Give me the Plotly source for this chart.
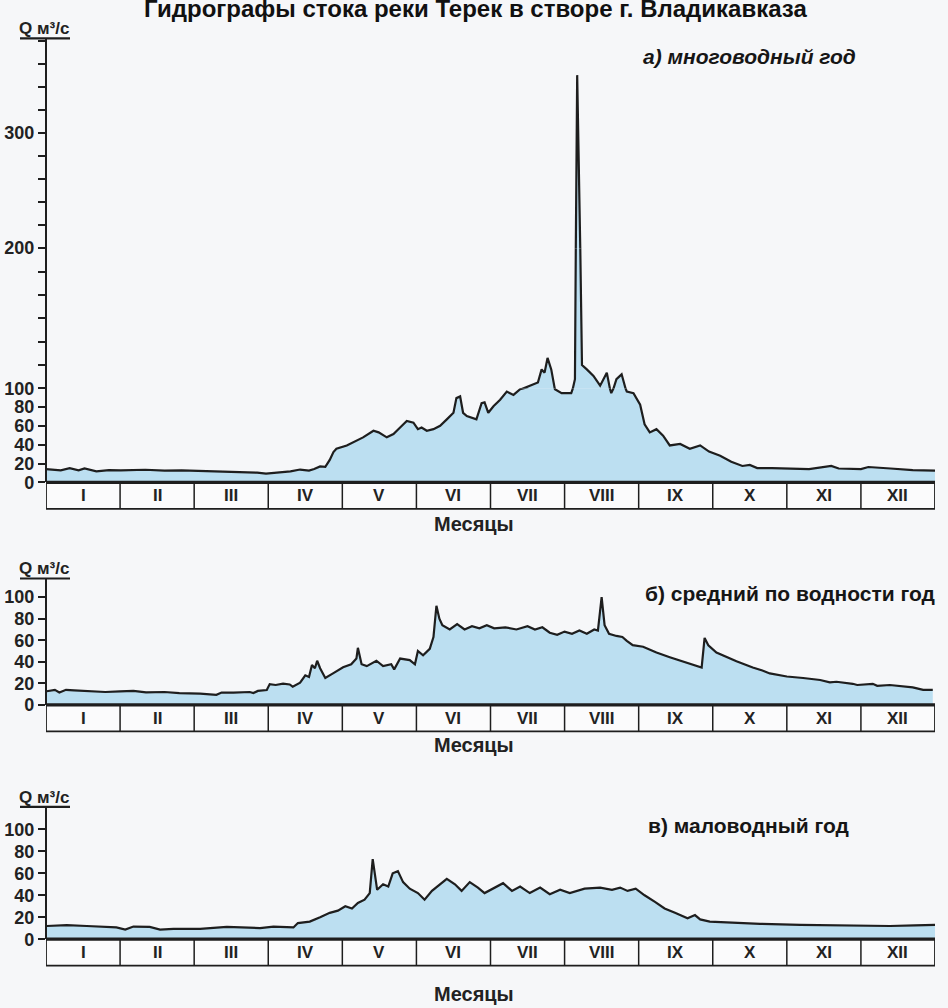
import plotly.graph_objects as go

W, H = 948, 1008

title_text = "Гидрографы стока реки Терек в створе г. Владикавказа"
months = ["I", "II", "III", "IV", "V", "VI", "VII", "VIII", "IX", "X", "XI", "XII"]
panel_titles = ["а) многоводный год", "б) средний по водности год", "в) маловодный год"]
q_label = "Q м³/с"
x_label = "Месяцы"

# position along the year in month units (0 = 1 Jan, 12 = 31 Dec), discharge in m3/s
a_m = [0.00, 0.10, 0.20, 0.32, 0.44, 0.52, 0.68, 0.85, 1.01, 1.34, 1.60, 1.83, 2.05, 2.24, 2.64, 2.85,
       2.97, 3.13, 3.30, 3.43, 3.55, 3.62, 3.70, 3.77, 3.83, 3.88, 3.92, 4.06, 4.15, 4.28, 4.42, 4.49,
       4.60, 4.69, 4.78, 4.87, 4.96, 5.02, 5.07, 5.14, 5.23, 5.32, 5.41, 5.50, 5.54, 5.59, 5.63, 5.68,
       5.81, 5.88, 5.92, 5.97, 6.04, 6.13, 6.22, 6.31, 6.40, 6.53, 6.64, 6.69, 6.73, 6.77, 6.82, 6.87,
       6.96, 7.09, 7.14, 7.17, 7.235, 7.30, 7.39, 7.48, 7.57, 7.63, 7.70, 7.77, 7.84, 7.93, 8.02, 8.08,
       8.15, 8.24, 8.33, 8.42, 8.56, 8.69, 8.83, 8.95, 9.10, 9.25, 9.40, 9.50, 9.60, 9.80, 10.0, 10.3,
       10.6, 10.7, 11.0, 11.1, 11.4, 11.7, 12.0]
a_q = [14.2, 13.7, 12.8, 15.1, 12.8, 14.8, 11.8, 13.1, 12.8, 13.5, 12.6, 12.8, 12.3, 11.8, 10.9, 10.4,
       9.4, 10.7, 11.8, 13.7, 12.6, 14.2, 17, 16.6, 24, 32.3, 35.8, 39.3, 42.7, 47.9, 54.9, 53.2,
       47.9, 51.4, 58.3, 65.3, 63.5, 56.6, 58.3, 54.9, 56.6, 60.2, 67, 74, 89.6, 91.4, 74, 70.6,
       67, 84.2, 85.1, 74, 81, 87.9, 96.6, 93, 99, 101.9, 104.2, 113.5, 111.2, 121.7, 113.5, 99,
       94.9, 94.9, 106.5, 350, 116.6, 113.5, 108.9, 101.9, 111.2, 94.9, 106.5, 110, 96.6, 94.9, 82.6, 61.8,
       53.2, 56.6, 49.7, 39.3, 40.9, 35.8, 39.3, 32.8, 28.4, 21.9, 17.5, 18.6, 15.3, 15.3, 14.8, 14.2,
       17.5, 14.8, 14.2, 16.4, 14.8, 13.1, 12.6]

b_m = [0.01, 0.12, 0.18, 0.27, 0.38, 0.55, 0.80, 1.00, 1.18, 1.35, 1.60, 1.80, 2.08, 2.30, 2.37, 2.53,
       2.75, 2.80, 2.86, 2.98, 3.02, 3.10, 3.20, 3.29, 3.33, 3.43, 3.50, 3.55, 3.59, 3.63, 3.66, 3.70,
       3.77, 3.88, 4.01, 4.12, 4.19, 4.21, 4.26, 4.33, 4.46, 4.55, 4.66, 4.70, 4.78, 4.91, 4.98, 5.02,
       5.09, 5.18, 5.23, 5.27, 5.31, 5.35, 5.45, 5.55, 5.65, 5.75, 5.85, 5.95, 6.05, 6.20, 6.35, 6.50,
       6.60, 6.70, 6.80, 6.90, 7.00, 7.10, 7.20, 7.30, 7.40, 7.45, 7.50, 7.54, 7.60, 7.70, 7.78, 7.84,
       7.92, 8.06, 8.24, 8.42, 8.65, 8.85, 8.89, 8.94, 9.05, 9.14, 9.32, 9.54, 9.67, 9.77, 10.0, 10.22,
       10.45, 10.58, 10.67, 10.89, 10.95, 11.16, 11.22, 11.39, 11.57, 11.70, 11.84, 11.97]
b_q = [12.7, 14, 11.6, 14, 13.5, 13, 12, 12.5, 13, 11.6, 12, 11, 10.5, 9.4, 11.5, 11.5,
       12, 11, 13, 13.8, 19.3, 18.5, 19.8, 19, 17, 20.6, 27.5, 26, 37, 34, 41, 34,
       25, 29.5, 35, 37.7, 43, 53, 37.7, 36, 41, 36, 37.7, 33, 43, 41.6, 37.7, 50,
       46, 52, 63, 92, 80, 74, 70, 75, 70, 73, 71, 74, 71, 72, 70, 73,
       70, 72, 67, 65, 68, 66, 69, 66, 70, 69, 100, 74, 66, 64, 63, 59.5,
       55.4, 54, 48.6, 44.3, 38.8, 34.7, 62.2, 55.4, 48.6, 45.7, 40.5, 34.7, 32, 29.2, 26.4, 25,
       23.1, 20.9, 21.5, 19.6, 18.5, 19.6, 17.7, 18.5, 17.1, 16.3, 14, 14]

c_m = [0.01, 0.28, 0.55, 0.73, 0.95, 1.07, 1.18, 1.40, 1.54, 1.72, 2.08, 2.44, 2.62, 2.89, 3.07, 3.34,
       3.40, 3.56, 3.70, 3.83, 3.94, 4.04, 4.13, 4.21, 4.30, 4.37, 4.41, 4.47, 4.55, 4.62, 4.68, 4.75,
       4.82, 4.91, 5.02, 5.11, 5.21, 5.32, 5.41, 5.52, 5.61, 5.72, 5.83, 5.92, 6.06, 6.17, 6.29, 6.40,
       6.53, 6.67, 6.80, 6.94, 7.07, 7.27, 7.48, 7.64, 7.75, 7.85, 7.96, 8.08, 8.22, 8.35, 8.49, 8.66,
       8.76, 8.83, 8.96, 9.23, 9.64, 10.18, 10.58, 10.99, 11.39, 11.73, 12.0]
c_q = [12, 12.8, 12, 11.2, 10.7, 8.8, 11.5, 11.2, 8.8, 9.4, 9.4, 11.2, 10.7, 10.1, 11.5, 10.7,
       14.7, 16, 20, 24, 26, 30, 28, 33, 36, 42, 73, 45, 50, 48, 60, 62,
       52, 46, 42, 36, 44, 50, 55, 50, 44, 52, 47, 42, 47, 51, 44, 48,
       42, 47, 41, 45, 42, 46, 47, 45, 47, 44, 46, 40, 34, 28, 24, 19,
       22, 18, 16, 15, 14, 13, 12.5, 12, 12, 12.5, 13]

# panel (a) uses a broken scale: 0-100, 100-200 (stretched), 200-380
a_low_ticks = [0, 20, 40, 60, 80, 100]
a_mid_ticks = [100 + 100 * k / 6 for k in range(1, 6)]
a_up_ticks = [200, 220, 240, 260, 280, 300, 320, 340, 360, 380]
a_up_labels = ["200" if v == 200 else ("300" if v == 300 else "") for v in a_up_ticks]
bc_ticks = [0, 20, 40, 60, 80, 100]

# ---------- layout geometry (pixels) ----------
X0, X1 = 46, 935


def py(p):
    return 1 - p / H


LINE = "#1e1e1e"
FILL = "#bcdff1"
FONT = "Liberation Sans, Arial, sans-serif"

panels = [
    dict(zero=482, box=509, top=30, xlab=524, scale=None),
    dict(zero=709, box=736, top=581, xlab=750, scale=1.10),
    dict(zero=948, box=975, top=814, xlab=1004, scale=1.12),
]
A_B1 = 386   # px of 100 (panel a)
A_B2 = 243   # px of 200 (panel a)
A_UP_SCALE = 1.177
a_up_max = 200 + (A_B2 - panels[0]["top"]) / A_UP_SCALE
b_max = (panels[1]["zero"] - panels[1]["top"]) / panels[1]["scale"]
c_max = (panels[2]["zero"] - panels[2]["top"]) / panels[2]["scale"]

fig = go.Figure()

axis_common = dict(
    showline=True, linecolor=LINE, linewidth=2.4, ticks="outside", ticklen=7, tickwidth=2,
    tickcolor=LINE, showgrid=False, zeroline=False, fixedrange=True,
    tickfont=dict(family=FONT, size=18, color="#222", weight="bold"), anchor="free", position=X0 / W,
)

trace_common = dict(mode="lines", line=dict(color=LINE, width=2.2), fill="tozeroy",
                    fillcolor=FILL, hoverinfo="skip", showlegend=False, xaxis="x")

fig.add_trace(go.Scatter(x=a_m, y=a_q, yaxis="y", **trace_common))
fig.add_trace(go.Scatter(x=a_m, y=a_q, yaxis="y5", **trace_common))
fig.add_trace(go.Scatter(x=a_m, y=a_q, yaxis="y2", **trace_common))
fig.add_trace(go.Scatter(x=b_m, y=b_q, yaxis="y3", **trace_common))
fig.add_trace(go.Scatter(x=c_m, y=c_q, yaxis="y4", **trace_common))

fig.update_layout(
    width=W, height=H, margin=dict(l=0, r=0, t=0, b=0),
    paper_bgcolor="#f6f7f9", plot_bgcolor="rgba(0,0,0,0)",
    xaxis=dict(domain=[X0 / W, X1 / W], range=[0, 12], visible=False, fixedrange=True, anchor="y"),
    yaxis=dict(domain=[py(panels[0]["zero"]), py(A_B1)], range=[0, 100],
               tickvals=a_low_ticks, **axis_common),
    yaxis5=dict(domain=[py(A_B1), py(A_B2)], range=[100, 200],
                tickvals=a_mid_ticks, ticktext=[""] * len(a_mid_ticks), **axis_common),
    yaxis2=dict(domain=[py(A_B2), py(panels[0]["top"])], range=[200, a_up_max],
                tickvals=a_up_ticks, ticktext=a_up_labels, **axis_common),
    yaxis3=dict(domain=[py(panels[1]["zero"]), py(panels[1]["top"])], range=[0, b_max],
                tickvals=bc_ticks, **axis_common),
    yaxis4=dict(domain=[py(panels[2]["zero"]), py(panels[2]["top"])], range=[0, c_max],
                tickvals=bc_ticks, **axis_common),
)

shapes = []
annotations = []

annotations.append(dict(text="<b>" + title_text + "</b>", x=475 / W, xref="paper", xanchor="center",
                        y=py(14), yref="paper", yanchor="bottom", showarrow=False,
                        font=dict(family=FONT, size=24, color="#111")))

title_pos = [(749, 47), (790, 595), (748, 832)]
for i, p in enumerate(panels):
    z, b = py(p["zero"]), py(p["box"])
    shapes.append(dict(type="rect", xref="x", yref="paper", x0=0, x1=12, y0=b, y1=z,
                       line=dict(color=LINE, width=1.8), fillcolor="rgba(255,255,255,0.5)", layer="below"))
    for k in range(1, 12):
        shapes.append(dict(type="line", xref="x", yref="paper", x0=k, x1=k, y0=b, y1=z,
                           line=dict(color=LINE, width=1.5)))
    shapes.append(dict(type="line", xref="x", yref="paper", x0=0, x1=12, y0=z, y1=z,
                       line=dict(color=LINE, width=3.2)))
    for k, mname in enumerate(months):
        annotations.append(dict(text="<b>" + mname + "</b>", x=k + 0.5, xref="x", xanchor="center",
                                y=(z + b) / 2, yref="paper", yanchor="middle", showarrow=False,
                                font=dict(family=FONT, size=17, color="#222")))
    annotations.append(dict(text="<b>" + x_label + "</b>", x=474 / W, xref="paper", xanchor="center",
                            y=py(p["xlab"]), yref="paper", yanchor="middle", showarrow=False,
                            font=dict(family=FONT, size=20, color="#222")))
    annotations.append(dict(text="<b>" + q_label + "</b>", x=44 / W, xref="paper", xanchor="center",
                            y=py(p["top"] - 11), yref="paper", yanchor="middle", showarrow=False,
                            font=dict(family=FONT, size=17, color="#222")))
    shapes.append(dict(type="line", xref="paper", yref="paper", x0=20 / W, x1=70 / W,
                       y0=py(p["top"] - 1), y1=py(p["top"] - 1), line=dict(color=LINE, width=2.2)))
    tx, ty = title_pos[i]
    txt = "<b><i>" + panel_titles[i] + "</i></b>" if i == 0 else "<b>" + panel_titles[i] + "</b>"
    annotations.append(dict(text=txt, x=tx / W, xref="paper", xanchor="center", y=py(ty), yref="paper",
                            yanchor="middle", showarrow=False,
                            font=dict(family=FONT, size=21, color="#161616")))

fig.update_layout(shapes=shapes, annotations=annotations)

fig.write_html("out.html", config={"displayModeBar": False},
               post_script="document.body.style.margin='0';document.body.style.overflow='hidden';")
